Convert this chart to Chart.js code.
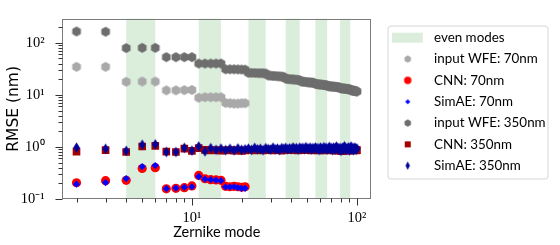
<!DOCTYPE html>
<html><head><meta charset="utf-8">
<script src="https://cdn.jsdelivr.net/npm/chart.js@4.4.1/dist/chart.umd.min.js"></script>
<style>html,body{margin:0;padding:0;background:#fff;}canvas{display:block;}</style>
</head><body>
<canvas id="c" width="560" height="245"></canvas>
<script>
// ---------------- data ----------------
const modes = [2,3,4,5,6,7,8,9,10,11,12,13,14,15,16,17,18,19,20,21,22,23,24,25,26,27,28,29,30,31,32,33,34,35,36,37,38,39,40,41,42,43,44,45,46,47,48,49,50,51,52,53,54,55,56,57,58,59,60,61,62,63,64,65,66,67,68,69,70,71,72,73,74,75,76,77,78,79,80,81,82,83,84,85,86,87,88,89,90,91,92,93,94,95,96,97,98,99,100];
const modes70 = [2,3,4,5,6,7,8,9,10,11,12,13,14,15,16,17,18,19,20,21];

const inputWFE70 = [34.5,34.5,17.8,18,18,12.2,12.2,12.3,12.4,8.8,9,9,9,9,7.0,6.9,6.8,6.8,6.9,6.9];
const cnn70 = [0.205,0.225,0.228,0.385,0.40,0.157,0.16,0.165,0.178,0.283,0.245,0.235,0.232,0.228,0.175,0.172,0.175,0.172,0.168,0.172];
const simae70 = [0.193,0.207,0.247,0.42,0.44,0.158,0.162,0.168,0.172,0.27,0.24,0.235,0.23,0.225,0.17,0.17,0.172,0.165,0.16,0.16];

const inputWFE350 = [165,163,
  79,80,80,
  53,53,53,53,
  40,40,40,40,40,
  31,31,31,30.8,30.6,30.5,
  26.5,26.4,26.3,26.2,26.1,26,25.8,
  23.5,23.3,23.1,23,22.8,22.6,22.4,22.2,
  20.4,20.2,20,19.9,19.8,19.6,19.5,19.3,19.1,
  18,17.9,17.8,17.7,17.5,17.4,17.3,17.2,17.1,17,
  16.2,16.1,16,15.9,15.8,15.7,15.6,15.5,15.4,15.3,15.2,
  14.7,14.6,14.6,14.5,14.4,14.4,14.3,14.2,14.2,14.1,14,14,
  13.5,13.4,13.4,13.3,13.2,13.2,13.1,13,13,12.9,12.8,12.8,12.7,
  12.3,12.2,12.1,12,12,11.9,11.8,11.7,11.6];
const cnn350 = [0.81,0.87,0.80,1.02,1.05,0.81,0.80,0.93,0.84,
  0.95,0.88,0.86,0.87,0.85,0.86,0.87,0.85,0.86,0.84,0.86,
  0.88,0.87,0.86,0.89,0.87,0.86,0.88,0.9,0.87,0.86,0.88,0.89,0.87,0.85,0.88,
  0.9,0.88,0.87,0.89,0.88,0.9,0.87,0.86,0.88,0.9,0.89,0.87,0.88,0.91,0.89,0.87,0.86,0.9,0.88,
  0.9,0.88,0.86,0.89,0.87,0.91,0.88,0.86,0.87,0.89,0.88,0.9,0.87,0.88,0.86,0.89,0.9,0.87,0.85,0.88,0.89,0.87,0.86,
  0.88,0.85,0.83,0.87,0.89,0.86,0.9,0.88,0.87,0.85,0.89,0.88,0.86,0.9,0.87,0.88,0.86,0.89,0.87,0.88,0.86,0.87];
const simae350 = [0.97,0.92,0.84,1.1,1.12,0.8,0.8,0.96,0.85,
  1.02,0.82,0.95,0.88,0.93,0.87,0.92,0.86,0.94,0.88,0.9,
  0.93,0.88,0.96,0.9,0.92,0.87,0.95,0.91,0.89,0.97,0.9,0.93,0.88,0.95,0.92,
  0.96,0.9,0.94,0.91,0.98,0.92,0.95,0.89,0.97,0.93,0.96,0.9,0.99,0.94,0.92,0.97,0.9,0.95,0.93,
  0.98,0.91,0.95,0.88,0.97,0.93,0.9,0.99,0.92,0.96,0.89,0.94,1.0,0.91,0.95,0.88,0.97,0.93,0.9,1.02,0.92,0.95,0.89,
  0.96,0.84,0.93,0.97,0.9,1.03,0.92,0.88,0.95,0.91,0.98,0.86,0.94,1.02,0.9,0.93,0.87,0.97,0.91,0.95,0.89,0.93];

// shaded "even modes" bands (start / end mode)
const bandStart = [4,11,22,37,56,79];
const bandEnd   = [6,15,28,45,66,91];

// tick values and labels
const xTickValues = [2,3,4,5,6,7,8,9,10,20,30,40,50,60,70,80,90,100];
const xTickLabels = {10:'10\u00B9', 100:'10\u00B2'};
const yTickValues = [0.1,0.2,0.3,0.4,0.5,0.6,0.7,0.8,0.9,1,2,3,4,5,6,7,8,9,10,20,30,40,50,60,70,80,90,100,200];
const yTickLabels = {0.1:'10\u207B\u00B9', 1:'10\u2070', 10:'10\u00B9', 100:'10\u00B2'};

const legendLabels = ['even modes','input WFE: 70nm','CNN: 70nm','SimAE: 70nm','input WFE: 350nm','CNN: 350nm','SimAE: 350nm'];

// ---------------- styles ----------------
const BAND = 'rgba(0,128,0,0.14)';
const C_LGRAY = '#a9a9a9', C_DGRAY = '#6e6e6e', C_RED = '#ff0000', C_BLUE = '#0000ff', C_DRED = '#a50000', C_DBLUE = '#00009c';

function hexImg(color, r){
  const s = Math.ceil(2*r)+2, c = document.createElement('canvas'); c.width=s; c.height=s;
  const g = c.getContext('2d'); g.fillStyle=color; g.beginPath();
  for(let k=0;k<6;k++){ const a=-Math.PI/2+k*Math.PI/3; const px=s/2+r*Math.cos(a), py=s/2+r*Math.sin(a); if(k) g.lineTo(px,py); else g.moveTo(px,py); }
  g.closePath(); g.fill(); return c;
}
function thinDiamondImg(color, hw, hh){
  const w = Math.ceil(2*hw)+2, h = Math.ceil(2*hh)+2, c = document.createElement('canvas'); c.width=w; c.height=h;
  const g = c.getContext('2d'); g.fillStyle=color; g.beginPath();
  g.moveTo(w/2,h/2-hh); g.lineTo(w/2+hw,h/2); g.lineTo(w/2,h/2+hh); g.lineTo(w/2-hw,h/2); g.closePath(); g.fill(); return c;
}
function circleImg(color, r){
  const s = Math.ceil(2*r)+2, c = document.createElement('canvas'); c.width=s; c.height=s;
  const g = c.getContext('2d'); g.fillStyle=color; g.beginPath(); g.arc(s/2,s/2,r,0,Math.PI*2); g.fill(); return c;
}
function squareImg(color, h){
  const s = Math.ceil(2*h)+2, c = document.createElement('canvas'); c.width=s; c.height=s;
  const g = c.getContext('2d'); g.fillStyle=color; g.fillRect(s/2-h,s/2-h,2*h,2*h); return c;
}

const hexL = hexImg(C_LGRAY, 5.0), hexD = hexImg(C_DGRAY, 5.0);
const thinD = thinDiamondImg(C_DBLUE, 3.3, 5.2);
const legendMarkers = [null, hexImg(C_LGRAY,3.7), circleImg(C_RED,3.7), thinDiamondImg(C_BLUE,2.6,2.6), hexImg(C_DGRAY,3.7), squareImg(C_DRED,3.0), thinDiamondImg(C_DBLUE,2.2,4.2)];

function pts(xs, ys){ return xs.map((x,i)=>({x:x, y:ys[i]})); }

// ---------------- plugins ----------------
const bandsPlugin = {
  id:'bands',
  beforeDatasetsDraw(chart){
    const {ctx, chartArea:a, scales:{x}} = chart;
    ctx.save(); ctx.fillStyle = BAND;
    for(let i=0;i<bandStart.length;i++){
      const x0 = x.getPixelForValue(bandStart[i]), x1 = x.getPixelForValue(bandEnd[i]);
      ctx.fillRect(x0, a.top, x1-x0, a.bottom-a.top);
    }
    ctx.restore();
  }
};
const framePlugin = {
  id:'frame',
  afterDatasetsDraw(chart){
    const {ctx, chartArea:a, scales:{x,y}} = chart;
    ctx.save();
    ctx.strokeStyle='#7a7a7a'; ctx.lineWidth=1;
    const L=Math.round(a.left)-0.5, R=Math.round(a.right)-0.5, T=Math.round(a.top)+0.5, B=Math.round(a.bottom)-0.5;
    ctx.strokeRect(L,T,R-L,B-T);
    ctx.strokeStyle='#333';
    x.ticks.forEach(t=>{
      const px=Math.round(x.getPixelForValue(t.value))+0.5, len = xTickLabels[t.value]?7:4;
      ctx.beginPath(); ctx.moveTo(px,B); ctx.lineTo(px,B+len); ctx.stroke();
    });
    y.ticks.forEach(t=>{
      const py=Math.round(y.getPixelForValue(t.value))+0.5, len = yTickLabels[t.value]?7:4;
      ctx.beginPath(); ctx.moveTo(L,py); ctx.lineTo(L-len,py); ctx.stroke();
    });
    ctx.restore();
  }
};
const legendPlugin = {
  id:'customLegend',
  afterDraw(chart){
    const ctx = chart.ctx;
    const bx=388, by=26, bw=160, bh=153, r=3;
    ctx.save();
    ctx.beginPath();
    ctx.moveTo(bx+r,by); ctx.lineTo(bx+bw-r,by); ctx.arcTo(bx+bw,by,bx+bw,by+r,r);
    ctx.lineTo(bx+bw,by+bh-r); ctx.arcTo(bx+bw,by+bh,bx+bw-r,by+bh,r);
    ctx.lineTo(bx+r,by+bh); ctx.arcTo(bx,by+bh,bx,by+bh-r,r);
    ctx.lineTo(bx,by+r); ctx.arcTo(bx,by,bx+r,by,r); ctx.closePath();
    ctx.fillStyle='rgba(255,255,255,0.8)'; ctx.fill();
    ctx.strokeStyle='#d6d6d6'; ctx.lineWidth=1; ctx.stroke();
    ctx.font='13.4px Lato'; ctx.fillStyle='#000'; ctx.textBaseline='middle'; ctx.textAlign='left';
    for(let i=0;i<legendLabels.length;i++){
      const cy = 37.7 + i*21.33;
      if(i===0){ ctx.fillStyle=BAND; ctx.fillRect(392,cy-5,30.7,10); ctx.fillStyle='#000'; }
      else { const m=legendMarkers[i]; ctx.drawImage(m, 407.7-m.width/2, cy-m.height/2); }
      ctx.fillText(legendLabels[i], 434, cy);
    }
    ctx.restore();
  }
};

// ---------------- chart ----------------
const common = {borderWidth:0, pointHoverRadius:5, showLine:false};
new Chart(document.getElementById('c'), {
  type:'scatter',
  data:{ datasets:[
    {...common, label:'input WFE: 70nm', data:pts(modes70,inputWFE70), pointStyle:hexL, backgroundColor:C_LGRAY, order:5},
    {...common, label:'CNN: 70nm', data:pts(modes70,cnn70), pointStyle:'circle', pointRadius:4.6, backgroundColor:C_RED, order:4},
    {...common, label:'SimAE: 70nm', data:pts(modes70,simae70), pointStyle:'rectRot', pointRadius:3.6, backgroundColor:C_BLUE, order:3},
    {...common, label:'input WFE: 350nm', data:pts(modes,inputWFE350), pointStyle:hexD, backgroundColor:C_DGRAY, order:2},
    {...common, label:'CNN: 350nm', data:pts(modes,cnn350), pointStyle:'rect', pointRadius:5.4, backgroundColor:C_DRED, order:1},
    {...common, label:'SimAE: 350nm', data:pts(modes,simae350), pointStyle:thinD, backgroundColor:C_DBLUE, order:0}
  ]},
  options:{
    responsive:false, animation:false, devicePixelRatio:1,
    layout:{padding:{top:5,right:189,left:0,bottom:0}},
    plugins:{legend:{display:false}, tooltip:{enabled:false}},
    scales:{
      x:{type:'logarithmic', min:1.645, max:121.6, bounds:'data',
        afterBuildTicks(s){ s.ticks = xTickValues.map(v=>({value:v})); },
        afterFit(s){ s.height = 46; },
        grid:{display:false}, border:{display:false},
        ticks:{autoSkip:false, maxRotation:0, minRotation:0, padding:2, color:'#000',
          font:{family:'Liberation Serif', size:14.5},
          callback:(v)=> xTickLabels[v] || ''},
        title:{display:true, text:'Zernike mode', color:'#000', font:{family:'Lato', size:14.5}, padding:{top:0,bottom:4.3}}
      },
      y:{type:'logarithmic', min:0.1, max:290, bounds:'data',
        afterBuildTicks(s){ s.ticks = yTickValues.map(v=>({value:v})); },
        afterFit(s){ s.width = 62.5; },
        grid:{display:false}, border:{display:false},
        ticks:{autoSkip:false, padding:10, color:'#000',
          font:{family:'Liberation Serif', size:14.5},
          callback:(v)=> yTickLabels[v] || ''},
        title:{display:true, text:'RMSE (nm)', color:'#000', font:{family:'DejaVu Sans', size:15.5}, padding:{top:4.5,bottom:0}}
      }
    }
  },
  plugins:[bandsPlugin, framePlugin, legendPlugin]
});
</script>
</body></html>
